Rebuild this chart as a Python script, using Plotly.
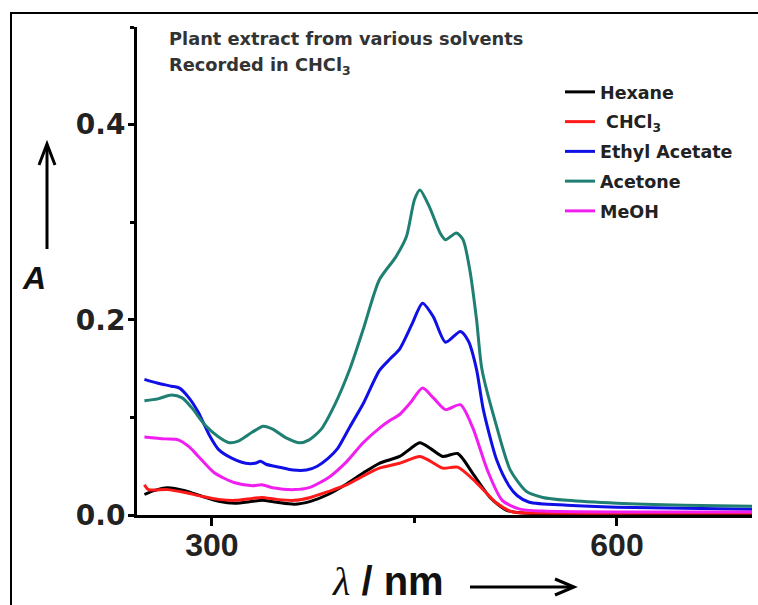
import plotly.graph_objects as go

# ---------------- data ----------------
hex_x = [250, 257, 267, 280, 293, 305, 317, 330, 337, 348, 361, 373, 386, 400, 412, 424,
         439, 447, 454, 462, 471, 482, 493, 506, 518, 530, 560, 620, 700]
hex_y = [0.021, 0.025, 0.028, 0.025, 0.019, 0.014, 0.012, 0.014, 0.015, 0.013, 0.011, 0.014,
         0.021, 0.032, 0.043, 0.053, 0.060, 0.068, 0.074, 0.068, 0.060, 0.063, 0.043, 0.018,
         0.005, 0.002, 0.001, 0.001, 0.001]

chcl_x = [250, 253, 267, 280, 293, 305, 317, 330, 337, 348, 361, 373, 386, 400, 412, 424,
          439, 454, 462, 471, 482, 496, 511, 523, 540, 620, 700]
chcl_y = [0.031, 0.026, 0.026, 0.023, 0.019, 0.016, 0.015, 0.017, 0.018, 0.016, 0.015, 0.018,
          0.024, 0.031, 0.040, 0.048, 0.053, 0.060, 0.055, 0.048, 0.049, 0.033, 0.012, 0.003,
          0.002, 0.002, 0.002]

ea_x = [250, 260, 270, 276, 283, 290, 298, 305, 315, 325, 332, 336, 340, 350, 360, 370, 378,
        386, 393, 402, 412, 424, 432, 439, 448, 456, 464, 473, 484, 490, 496, 501, 511, 520,
        526, 535, 563, 600, 650, 700]
ea_y = [0.139, 0.135, 0.132, 0.130, 0.120, 0.105, 0.082, 0.067, 0.058, 0.053, 0.053, 0.055,
        0.052, 0.049, 0.046, 0.046, 0.050, 0.058, 0.068, 0.090, 0.114, 0.148, 0.160, 0.170,
        0.195, 0.217, 0.203, 0.177, 0.188, 0.178, 0.149, 0.108, 0.056, 0.030, 0.020, 0.013,
        0.010, 0.008, 0.007, 0.006]

ac_x = [250, 260, 270, 278, 285, 295, 305, 313, 320, 330, 338, 345, 355, 365, 372, 381, 391,
        402, 412, 424, 436, 444, 450, 454, 461, 469, 473, 481, 486, 491, 496, 500, 511, 521,
        533, 545, 563, 600, 650, 700]
ac_y = [0.117, 0.119, 0.123, 0.120, 0.110, 0.092, 0.080, 0.074, 0.076, 0.085, 0.091, 0.088,
        0.079, 0.074, 0.077, 0.088, 0.113, 0.149, 0.190, 0.241, 0.264, 0.285, 0.323, 0.333,
        0.316, 0.289, 0.282, 0.289, 0.282, 0.251, 0.200, 0.149, 0.090, 0.046, 0.024, 0.018,
        0.015, 0.012, 0.010, 0.009]

me_x = [250, 265, 275, 283, 290, 302, 317, 330, 337, 345, 361, 372, 381, 387, 400, 412, 425,
        432, 439, 447, 456, 464, 473, 484, 493, 504, 515, 528, 545, 600, 700]
me_y = [0.080, 0.078, 0.077, 0.070, 0.060, 0.043, 0.033, 0.030, 0.031, 0.028, 0.026, 0.028,
        0.034, 0.039, 0.055, 0.074, 0.090, 0.097, 0.103, 0.115, 0.130, 0.120, 0.108, 0.113,
        0.090, 0.046, 0.015, 0.006, 0.004, 0.003, 0.003]

series_names = ["Hexane", " CHCl<sub>3</sub>", "Ethyl Acetate", "Acetone", "MeOH"]
series_x = [hex_x, chcl_x, ea_x, ac_x, me_x]
series_y = [hex_y, chcl_y, ea_y, ac_y, me_y]
series_colors = ["#000000", "#ff1a1a", "#1010e6", "#1f7f72", "#f01ff0"]

x_ticks = [300, 600]
y_ticks = [0.0, 0.2, 0.4]
y_ticklabels = ["0.0", "0.2", "0.4"]

# ---------------- geometry helpers ----------------
W, H = 758, 605
L, R, T, B = 137, 6, 27, 90
PW, PH = W - L - R, H - T - B


def px(x):
    return (x - L) / PW


def py(y):
    return (H - B - y) / PH


FONT = "Liberation Sans, Arial, sans-serif"
WIDE = "DejaVu Sans, Verdana, sans-serif"

fig = go.Figure()
for name, xs, ys, col in zip(series_names, series_x, series_y, series_colors):
    fig.add_trace(go.Scatter(
        x=xs, y=ys, name=name, mode="lines",
        line=dict(color=col, width=3, shape="spline", smoothing=0.7),
        legendgroup=name,
    ))

fig.update_layout(
    width=W, height=H, autosize=False,
    margin=dict(l=L, r=R, t=T, b=B, pad=0),
    paper_bgcolor="white", plot_bgcolor="white",
    showlegend=True,
    legend=dict(
        x=px(560), y=py(74), xanchor="left", yanchor="top",
        bgcolor="rgba(0,0,0,0)", borderwidth=0,
        font=dict(family=WIDE, size=17.5, color="#222222", weight="bold"),
        tracegroupgap=4, itemwidth=30,
    ),
    xaxis=dict(
        range=[244.5, 700], tickvals=x_ticks, ticktext=[str(v) for v in x_ticks],
        ticks="outside", ticklen=8, tickwidth=3, tickcolor="black",
        showline=True, linewidth=3, linecolor="black", mirror=False,
        showgrid=False, zeroline=False, ticklabelstandoff=-8,
        tickfont=dict(family=FONT, size=32, color="#222222", weight="bold"),
        minor=dict(tickvals=[450], ticks="outside", ticklen=5, tickwidth=3, tickcolor="black"),
    ),
    yaxis=dict(
        range=[0, 0.5], tickvals=y_ticks, ticktext=y_ticklabels,
        ticks="outside", ticklen=6, tickwidth=3, tickcolor="black",
        showline=True, linewidth=3, linecolor="black", mirror=False,
        showgrid=False, zeroline=False, ticklabelstandoff=-3,
        tickfont=dict(family=WIDE, size=28, color="#222222", weight="bold"),
        minor=dict(tickvals=[0.1, 0.3, 0.5], ticks="outside", ticklen=4, tickwidth=3,
                   tickcolor="black"),
    ),
)

annotations = [
    dict(x=px(167), y=py(38), text="Plant extract from various solvents",
         font=dict(family=WIDE, size=17.8, color="#333333", weight="bold")),
    dict(x=px(167), y=py(66), text="Recorded in CHCl<sub>3</sub>",
         font=dict(family=WIDE, size=17.8, color="#333333", weight="bold")),
    dict(x=px(20), y=py(278), text="<i>A</i>",
         font=dict(family=FONT, size=32, color="#111111", weight="bold")),
    dict(x=px(330), y=py(581),
         text="<span style='font-family:Liberation Serif, serif; font-weight:normal'><i>λ</i></span> / nm",
         font=dict(family=FONT, size=40, color="#111111", weight="bold")),
]
for a in annotations:
    a.update(xref="paper", yref="paper", xanchor="left", yanchor="middle",
             showarrow=False)
    fig.add_annotation(**a)


def path(points):
    s = "M " + " L ".join(f"{px(a):.5f},{py(b):.5f}" for a, b in points[:1])
    for a, b in points[1:]:
        s += f" L {px(a):.5f},{py(b):.5f}"
    return s


shapes = [
    # outer frame
    dict(type="rect", x0=px(11), x1=px(790), y0=py(640), y1=py(13),
         line=dict(color="black", width=2)),
    # y arrow
    dict(type="path", path=path([(47, 249), (47, 145)]), line=dict(color="black", width=3)),
    dict(type="path", path=path([(39, 165), (47, 144), (55, 165)]),
         line=dict(color="black", width=3)),
    # x arrow
    dict(type="path", path=path([(470, 587), (573, 587)]), line=dict(color="black", width=3)),
    dict(type="path", path=path([(555, 579), (574, 587), (555, 595)]),
         line=dict(color="black", width=3)),
]
for s in shapes:
    s.update(xref="paper", yref="paper")
    fig.add_shape(**s)

fig.write_html("out.html")
